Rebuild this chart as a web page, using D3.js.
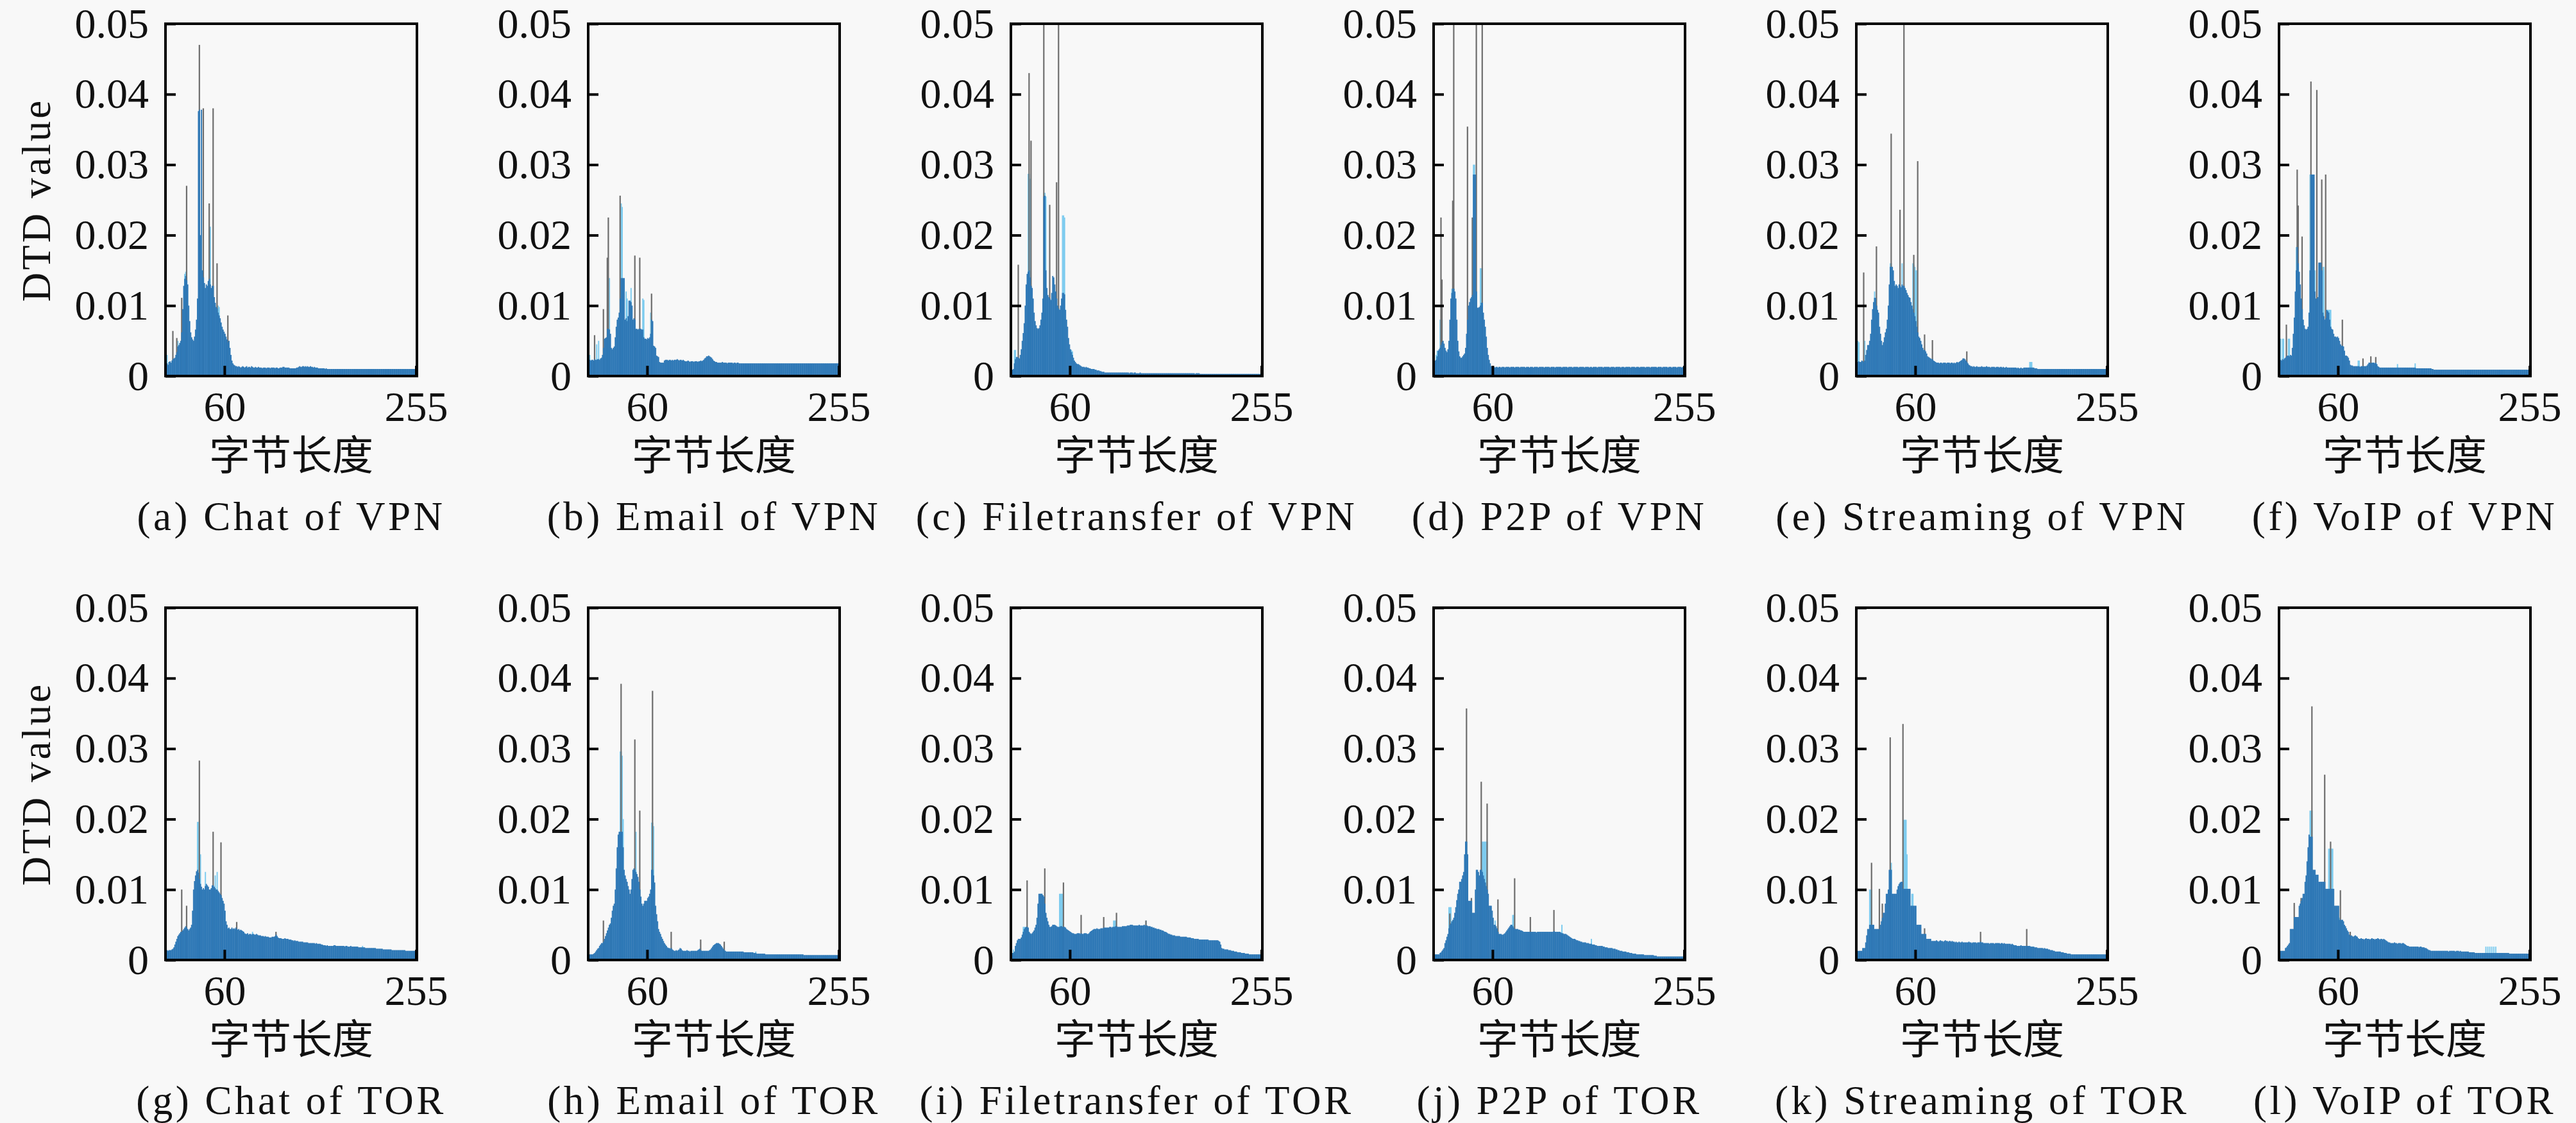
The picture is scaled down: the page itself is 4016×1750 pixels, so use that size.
<!DOCTYPE html>
<html>
<head>
<meta charset="utf-8">
<title>DTD value per byte length</title>
<script src="https://d3js.org/d3.v7.min.js"></script>
<style>
  body { margin: 0; background: #f8f8f8; }
  svg { display: block; }
  text { font-family: 'Liberation Serif', 'DejaVu Serif', serif; fill: #111; }
  .axis text { font-size: 66px; }
  .axis line { stroke: #000; stroke-width: 4px; }
  .frame { fill: none; stroke: #000; stroke-width: 4px; }
  .xtitle { font-family: 'Liberation Serif', 'Noto Sans CJK SC', sans-serif; font-size: 64px; }
  .ytitle { font-size: 63px; letter-spacing: 4px; }
  .caption { font-size: 63px; letter-spacing: 4.5px; }
  .blue { fill: #2e78b6; }
  .cyan { fill: #7ccbef; }
  .spike { fill: #6e6e6e; }
</style>
</head>
<body>
<svg id="chart" width="4016" height="1750"></svg>
<script>
// DTD values per byte length 0..255, in units of 0.0001
const chatVpnBlue = [
  17,18,16,20,21,19,22,24,25,26,30,34,42,44,47,50,
  62,95,128,138,142,136,130,100,78,62,55,52,50,56,66,80,
  110,376,378,200,378,150,140,132,125,130,128,135,138,130,125,128,
  128,112,104,98,96,90,86,82,76,70,66,63,60,56,52,48,
  50,40,30,22,18,16,15,14,14,13,14,13,12,13,14,13,
  12,13,14,12,13,13,12,14,13,12,12,13,12,12,13,12,
  12,12,11,12,12,12,11,12,12,12,11,12,12,12,12,11,
  12,12,11,11,12,12,12,13,13,12,12,12,12,12,11,11,
  11,11,11,11,11,12,12,13,14,13,13,14,14,13,14,13,
  14,13,13,14,13,13,12,13,12,12,12,11,11,11,11,11,
  11,11,10,11,10,10,10,10,10,10,10,10,10,10,10,10,
  10,10,10,10,10,10,10,10,10,10,10,10,10,10,10,10,
  10,10,10,10,10,10,10,10,10,10,10,10,10,10,10,10,
  10,10,10,10,10,10,10,10,10,10,10,10,10,10,10,10,
  10,10,10,10,10,10,10,10,10,10,10,10,10,10,10,10,
  10,10,10,10,10,10,10,10,10,10,10,10,10,10,10,12
];
const chatVpnSpikes = [[7,64],[11,54],[16,111],[21,270],[34,470],[38,380],[44,245],[48,380],[52,160],[63,86],[255,20]];
const chatVpnCyan = [[0,31],[1,30],[12,50],[19,145],[20,148],[21,140],[44,210],[45,212],[53,100],[54,98],[60,55]];

const emailVpnBlue = [
  23,23,22,23,23,22,24,23,23,24,24,23,25,26,30,40,
  53,54,55,67,67,66,60,40,38,40,42,55,70,80,83,90,
  110,139,139,139,139,80,82,78,85,107,107,105,100,80,82,80,
  67,67,66,67,67,67,66,66,55,53,53,52,54,53,55,60,
  80,78,43,42,40,29,28,27,20,19,19,19,19,22,23,23,
  23,22,23,23,22,23,22,23,23,23,24,23,22,23,23,22,
  23,22,21,21,21,22,21,20,21,21,21,20,21,21,21,20,
  21,21,22,21,22,23,25,26,28,28,29,28,27,26,24,22,
  21,20,20,19,19,19,19,19,20,19,19,19,19,18,19,19,
  19,19,19,18,19,19,18,19,19,18,18,18,18,18,18,18,
  18,18,18,18,18,18,18,18,18,18,18,18,18,18,18,18,
  18,18,18,18,18,18,18,18,18,18,18,18,18,18,18,18,
  18,18,18,18,18,18,18,18,18,18,18,18,18,18,18,18,
  18,18,18,18,18,18,18,18,18,18,18,18,18,18,18,18,
  18,18,18,18,18,18,18,18,18,18,18,18,18,18,18,18,
  18,18,18,18,18,18,18,18,18,18,18,18,18,18,18,22
];
const emailVpnSpikes = [[6,58],[15,95],[19,168],[20,225],[32,256],[47,171],[52,168],[64,117]];
const emailVpnCyan = [[0,30],[1,30],[8,45],[10,50],[19,139],[20,139],[21,139],[33,245],[34,240],[38,120],[39,110],[43,125],[55,110],[56,108],[63,90],[255,26]];

const fileVpnBlue = [
  8,9,10,18,24,27,27,26,25,30,38,50,61,75,100,130,
  145,148,150,140,128,125,110,90,78,72,68,67,68,72,80,90,
  110,255,256,150,125,115,112,110,108,118,142,140,130,120,110,100,
  96,94,100,110,118,118,116,94,80,70,54,45,38,34,30,26,
  22,20,18,17,17,16,15,14,13,13,13,12,13,12,12,11,
  11,10,10,10,10,9,9,8,8,8,7,7,6,6,6,5,
  5,5,5,5,5,5,5,5,5,5,5,5,5,5,5,5,
  5,5,5,5,5,5,5,5,4,5,5,5,4,5,5,4,
  4,4,4,5,4,4,4,4,4,4,4,4,4,4,4,4,
  4,4,4,4,4,4,4,4,4,4,4,4,4,4,4,4,
  4,4,4,4,4,4,4,4,4,4,4,4,4,4,4,4,
  4,4,4,4,4,4,4,4,4,4,4,3,4,4,4,4,
  3,3,3,3,3,3,3,3,3,3,3,3,3,3,3,3,
  3,3,3,3,3,3,3,3,3,3,3,3,3,3,3,3,
  3,3,3,3,3,3,3,3,3,3,3,3,3,3,3,3,
  3,3,3,3,3,3,3,3,3,3,3,3,3,3,3,6
];
const fileVpnSpikes = [[7,158],[18,430],[20,334],[33,560],[39,243],[46,275],[48,560],[255,12]];
const fileVpnCyan = [[3,37],[4,37],[17,287],[18,287],[19,280],[33,260],[34,260],[35,255],[52,228],[53,228],[54,225],[61,37],[62,35]];

const p2pVpnBlue = [
  10,22,23,28,36,38,40,44,48,50,46,40,36,34,38,50,
  80,110,118,124,124,120,110,80,50,35,28,26,26,28,30,32,
  40,60,80,100,105,110,112,115,286,286,286,120,97,97,98,100,
  104,104,90,80,70,56,40,30,23,18,14,13,13,13,12,13,
  13,12,13,13,12,13,13,13,12,13,13,13,13,12,13,13,
  13,13,12,13,13,13,13,12,13,13,13,13,13,12,13,13,
  13,12,13,13,13,12,13,13,13,13,12,13,13,13,13,13,
  12,13,13,13,13,13,12,13,13,13,13,12,13,13,13,13,
  13,13,12,13,13,13,13,13,12,13,13,13,13,12,13,13,
  13,13,13,12,13,13,13,13,13,12,13,13,13,13,12,13,
  13,12,13,13,13,13,12,13,13,13,13,13,12,13,13,13,
  13,13,13,12,13,13,13,13,12,13,13,13,13,13,12,13,
  13,13,12,13,13,13,13,13,12,13,13,13,13,12,13,13,
  13,12,13,13,13,13,13,12,13,13,13,13,12,13,13,13,
  13,13,13,12,13,13,13,13,12,13,13,13,13,13,12,13,
  13,13,12,13,13,13,13,12,13,13,13,13,12,13,13,20
];
const p2pVpnSpikes = [[7,225],[8,137],[19,249],[20,600],[34,354],[39,225],[43,600],[49,600],[255,20]];
const p2pVpnCyan = [[2,30],[3,36],[6,80],[7,80],[8,80],[18,124],[19,130],[39,225],[40,300],[41,300],[47,153],[48,153],[49,153]];

const streamVpnBlue = [
  20,20,21,20,20,22,21,20,22,30,37,44,44,50,60,80,
  95,105,111,111,100,94,90,70,60,50,44,48,55,62,67,80,
  100,130,155,155,155,150,135,128,130,128,125,130,128,126,130,128,
  128,125,122,118,115,112,111,105,100,95,90,85,78,70,62,56,
  54,50,45,40,37,37,35,32,28,27,26,25,24,24,22,21,
  20,19,19,19,18,19,19,18,19,19,19,18,19,19,19,18,
  19,19,18,19,18,19,20,19,20,21,22,23,25,25,24,22,
  20,18,16,15,14,14,13,14,13,13,14,13,13,13,13,14,
  13,13,13,13,14,13,13,13,12,13,13,13,13,12,13,13,
  13,12,13,13,12,13,12,12,13,12,12,12,12,12,12,12,
  12,12,12,11,12,11,11,12,11,11,12,12,12,12,12,12,
  12,12,12,12,12,11,11,11,10,10,10,10,10,10,10,10,
  10,10,10,10,10,10,10,10,10,10,10,10,10,10,10,10,
  10,10,10,10,10,10,10,10,10,10,10,10,10,10,10,10,
  10,10,10,10,10,10,10,10,10,10,10,10,10,10,10,10,
  10,10,10,10,10,10,10,10,10,10,10,10,10,10,10,11
];
const streamVpnSpikes = [[7,147],[20,184],[35,344],[44,236],[48,560],[58,172],[62,305],[69,59],[77,51],[112,35]];
const streamVpnCyan = [[0,50],[1,50],[2,48],[8,50],[18,120],[34,160],[35,160],[46,160],[57,160],[58,158],[59,155],[60,150],[61,150],[176,20],[177,20],[178,20]];

const voipVpnBlue = [
  23,23,22,24,23,25,26,28,29,29,28,30,29,40,60,83,
  120,150,183,160,148,130,110,95,80,72,67,66,67,70,90,150,
  286,286,286,286,120,110,110,112,161,161,161,150,90,85,80,82,
  94,92,90,80,70,67,66,60,56,56,55,56,54,50,45,43,
  43,42,36,29,29,28,26,22,16,15,15,14,14,14,14,14,
  14,14,13,14,14,14,14,14,14,15,17,19,19,18,19,19,
  19,18,19,17,14,13,12,12,12,12,12,12,12,12,12,12,
  12,12,12,12,12,12,12,12,12,12,12,12,12,12,12,12,
  12,12,12,12,12,12,12,12,12,12,12,11,11,11,11,11,
  11,11,11,11,11,11,11,11,11,11,11,10,10,9,9,9,
  9,9,9,9,9,9,9,9,9,9,9,9,9,9,9,9,
  9,9,9,9,9,9,9,9,9,9,9,9,9,9,9,9,
  9,9,9,9,9,9,9,9,9,9,9,9,9,9,9,9,
  9,9,9,9,9,9,9,9,9,9,9,9,9,9,9,9,
  9,9,9,9,9,9,9,9,9,9,9,9,9,9,9,9,
  9,9,9,9,9,9,9,9,9,9,9,9,9,9,9,16
];
const voipVpnSpikes = [[7,73],[18,293],[19,242],[23,198],[32,418],[38,406],[43,279],[47,286],[64,80],[85,25],[93,28],[98,27]];
const voipVpnCyan = [[0,53],[1,53],[3,53],[4,53],[9,53],[10,53],[17,183],[18,185],[31,286],[36,150],[44,155],[45,155],[49,94],[50,94],[51,94],[52,94],[80,22],[81,22],[120,17],[138,18]];

const chatTorBlue = [
  14,14,13,14,14,14,15,16,18,22,26,30,34,36,38,40,
  40,42,44,46,48,46,44,42,44,46,50,70,100,112,120,126,
  128,124,115,108,104,100,102,100,105,108,106,104,100,100,102,106,
  106,104,102,100,100,98,96,94,92,88,84,80,70,55,50,45,
  46,44,44,46,44,45,44,46,44,43,44,42,43,42,41,40,
  38,37,37,38,36,37,37,36,37,37,36,36,37,36,35,35,
  35,34,34,34,33,34,33,33,33,32,32,32,33,33,33,34,
  36,34,32,31,31,31,30,30,30,31,30,30,30,29,29,29,
  28,28,27,28,27,27,27,26,26,26,26,26,25,25,25,25,
  25,24,24,24,24,24,24,24,23,24,23,23,23,23,22,22,
  21,21,21,20,21,20,20,20,20,20,20,21,21,20,20,20,
  20,20,20,20,20,20,19,20,20,19,19,19,20,19,19,19,
  19,19,19,19,18,18,18,18,18,18,18,17,17,17,17,17,
  17,17,17,17,17,17,16,16,16,16,16,16,16,15,15,15,
  15,15,15,15,15,15,14,14,14,14,14,14,14,14,14,14,
  14,14,14,14,13,13,13,13,13,13,13,13,13,13,13,13
];
const chatTorSpikes = [[16,100],[21,77],[34,283],[48,182],[56,167],[72,54],[112,40],[255,13]];
const chatTorCyan = [[32,196],[33,196],[34,190],[35,150],[40,125],[50,120],[52,125],[88,40],[200,20]];

const emailTorBlue = [
  8,8,8,8,8,9,10,12,14,16,17,20,22,24,24,26,
  30,34,38,42,46,50,52,60,70,77,80,100,130,160,178,182,
  182,182,182,160,128,120,115,111,105,100,94,100,115,128,130,128,
  125,122,118,111,100,90,80,77,80,84,84,84,88,90,94,100,
  128,128,120,110,77,65,55,44,40,37,33,30,27,24,22,20,
  18,17,17,16,17,15,14,13,13,14,13,14,15,17,16,14,
  13,13,13,13,14,13,13,12,13,13,13,13,13,13,13,14,
  15,16,14,13,13,13,13,13,13,13,13,14,15,17,19,21,
  22,23,24,24,24,23,22,20,18,16,14,13,12,12,12,12,
  12,12,12,12,12,12,12,12,12,12,12,12,12,12,11,11,
  11,11,11,11,11,11,11,11,10,10,10,9,9,9,9,9,
  9,9,9,9,8,8,8,8,8,8,8,8,8,8,8,8,
  8,8,8,8,8,8,8,8,8,8,8,8,8,8,8,8,
  8,8,8,8,8,8,8,8,8,8,8,7,7,7,7,7,
  7,7,7,7,7,7,7,7,7,7,7,7,7,7,7,7,
  7,7,7,7,7,7,7,7,7,7,7,7,7,7,7,7
];
const emailTorSpikes = [[15,56],[23,50],[33,392],[47,313],[52,212],[65,382],[84,40],[114,29],[138,26]];
const emailTorCyan = [[32,296],[33,296],[34,290],[35,200],[48,182],[64,195],[65,195],[66,190],[170,12]];

const fileTorBlue = [
  10,10,10,12,20,24,28,30,30,30,32,36,40,44,46,47,
  47,46,40,38,37,38,40,42,46,50,60,80,94,94,94,94,
  92,90,80,67,60,55,50,47,47,48,50,50,50,49,48,47,
  47,47,48,48,47,47,47,46,44,43,42,41,40,39,38,38,
  37,37,37,38,38,38,37,38,37,37,38,38,38,37,37,38,
  40,41,42,43,44,44,44,45,44,44,44,45,45,45,46,46,
  46,46,46,46,47,47,46,47,47,47,48,48,47,47,47,47,
  47,48,48,48,48,48,49,49,49,50,50,50,49,49,49,49,
  49,49,50,49,49,49,49,50,49,49,49,48,48,48,47,47,
  46,46,45,45,44,44,44,43,43,42,42,41,40,40,39,38,
  37,37,36,36,35,35,35,34,34,34,34,34,33,33,33,33,
  33,33,33,32,32,32,32,31,31,31,30,30,30,30,30,29,
  29,29,29,29,29,29,29,29,29,28,28,28,28,28,28,28,
  28,28,28,27,26,22,17,16,16,15,15,15,15,14,14,14,
  13,13,13,12,12,12,11,11,11,11,10,10,10,10,9,9,
  9,9,8,8,8,8,8,8,8,8,8,8,8,8,8,8
];
const fileTorSpikes = [[16,113],[34,130],[53,110],[71,64],[94,61],[107,67],[137,56],[255,12]];
const fileTorCyan = [[2,15],[12,47],[13,47],[14,47],[30,94],[49,94],[50,94],[51,94],[52,94],[104,56],[105,56],[106,56],[137,56]];

const p2pTorBlue = [
  8,8,8,8,8,8,10,11,13,15,17,24,28,33,37,45,
  50,52,55,57,60,67,75,85,94,100,111,111,115,120,125,150,
  168,168,150,84,84,84,84,67,67,67,100,128,128,125,120,128,
  128,125,120,115,110,105,100,94,77,77,77,70,60,50,50,48,
  45,40,37,37,37,36,36,37,38,40,42,44,46,48,50,50,
  48,46,44,44,44,44,43,43,42,42,41,40,40,40,40,40,
  40,40,40,40,40,40,40,40,39,40,40,40,40,40,40,40,
  40,40,40,40,40,40,40,40,40,40,41,40,40,40,40,40,
  40,39,38,38,37,37,37,36,35,34,33,32,31,30,30,30,
  29,28,28,27,27,26,26,25,25,25,25,24,24,24,23,23,
  23,22,22,22,21,21,20,20,20,20,20,20,19,19,18,18,
  18,17,17,17,17,17,16,16,16,15,15,14,14,13,13,13,
  12,12,12,12,11,11,11,10,10,10,9,9,9,9,8,8,
  8,8,8,8,8,8,7,7,7,7,7,7,7,7,7,7,
  6,6,6,5,5,5,5,5,5,5,5,5,5,5,5,5,
  5,5,5,5,5,5,5,5,5,5,5,5,5,5,5,7
];
const p2pTorSpikes = [[16,66],[33,357],[38,88],[48,253],[54,222],[65,86],[82,116],[98,61],[122,71]];
const p2pTorCyan = [[15,75],[16,75],[17,75],[32,168],[33,168],[49,168],[50,168],[51,168],[52,168],[53,168],[54,168],[62,56],[80,64],[81,64],[130,50],[160,30]];

const streamTorBlue = [
  13,13,13,13,13,13,17,17,17,25,35,44,44,50,50,50,
  50,50,44,44,44,44,44,44,50,55,60,67,67,80,94,94,
  100,128,128,128,94,94,94,94,94,100,105,108,110,111,111,101,
  101,101,101,101,101,101,101,77,77,77,77,77,77,50,50,50,
  50,50,37,37,37,37,37,30,30,30,30,30,27,27,27,27,
  27,28,27,26,27,28,27,27,26,27,28,27,27,26,27,27,
  26,27,26,26,25,26,25,25,26,25,25,26,25,25,25,25,
  25,25,26,25,25,24,25,25,25,25,24,25,25,25,26,25,
  25,24,24,24,24,24,24,23,24,24,24,24,23,24,24,24,
  24,24,23,24,24,23,24,23,23,23,23,23,23,22,23,22,
  21,21,21,20,20,20,20,21,20,20,20,20,20,20,20,20,
  20,19,19,19,19,18,18,18,17,17,17,17,17,17,16,17,
  16,16,16,15,15,14,14,14,13,13,12,12,12,12,12,12,
  11,11,11,10,10,10,9,9,9,9,8,8,8,8,8,8,
  8,8,8,8,8,8,8,8,8,8,8,8,8,8,8,8,
  8,8,8,8,8,8,8,8,8,8,8,8,8,8,8,9
];
const streamTorSpikes = [[15,138],[23,101],[26,80],[34,316],[47,335],[69,45],[126,40],[173,44]];
const streamTorCyan = [[13,100],[14,100],[15,100],[34,138],[35,138],[47,199],[48,199],[49,199],[50,199],[51,150],[56,94],[57,94]];

const voipTorBlue = [
  13,13,13,13,13,13,17,18,20,22,24,44,44,44,44,61,
  61,61,61,61,77,80,84,88,94,94,111,120,140,160,178,175,
  175,175,128,128,128,121,121,121,111,111,111,111,111,111,111,101,
  101,101,101,101,101,101,101,101,77,77,77,77,77,57,57,57,
  57,55,50,48,45,42,40,36,34,35,34,33,34,35,34,33,
  31,30,30,31,30,30,29,30,31,30,30,30,29,30,31,30,
  30,29,30,30,31,30,29,30,30,29,30,29,28,27,26,25,
  25,24,24,24,24,25,24,24,23,24,24,24,23,24,24,23,
  22,21,20,20,19,19,19,19,19,19,19,19,19,19,18,19,
  19,18,18,18,17,17,16,15,14,14,13,13,13,13,13,13,
  13,13,13,13,13,13,13,13,13,13,13,13,12,13,13,13,
  13,13,13,12,13,13,13,12,13,12,12,12,12,12,12,12,
  12,11,11,11,11,11,11,10,10,10,10,10,10,10,10,10,
  10,10,10,10,10,10,10,10,10,10,10,10,10,10,10,10,
  10,10,10,10,10,10,10,10,10,10,9,9,9,9,9,9,
  9,9,9,9,9,9,9,9,9,9,9,9,9,9,9,12
];
const voipTorSpikes = [[15,81],[22,88],[33,360],[46,263],[52,168],[62,99],[72,40],[255,12]];
const voipTorCyan = [[31,212],[32,212],[33,212],[50,158],[51,158],[52,158],[53,158],[54,158],[60,60],[61,60],[210,19],[212,19],[214,19],[216,19],[218,19],[220,19]];

const captions = [
  '(a) Chat of VPN', '(b) Email of VPN', '(c) Filetransfer of VPN',
  '(d) P2P of VPN', '(e) Streaming of VPN', '(f) VoIP of VPN',
  '(g) Chat of TOR', '(h) Email of TOR', '(i) Filetransfer of TOR',
  '(j) P2P of TOR', '(k) Streaming of TOR', '(l) VoIP of TOR'
];
const blueSeries = [chatVpnBlue, emailVpnBlue, fileVpnBlue, p2pVpnBlue, streamVpnBlue, voipVpnBlue,
  chatTorBlue, emailTorBlue, fileTorBlue, p2pTorBlue, streamTorBlue, voipTorBlue];
const spikeSeries = [chatVpnSpikes, emailVpnSpikes, fileVpnSpikes, p2pVpnSpikes, streamVpnSpikes, voipVpnSpikes,
  chatTorSpikes, emailTorSpikes, fileTorSpikes, p2pTorSpikes, streamTorSpikes, voipTorSpikes];
const cyanSeries = [chatVpnCyan, emailVpnCyan, fileVpnCyan, p2pVpnCyan, streamVpnCyan, voipVpnCyan,
  chatTorCyan, emailTorCyan, fileTorCyan, p2pTorCyan, streamTorCyan, voipTorCyan];

const yTickValues = [0, 0.01, 0.02, 0.03, 0.04, 0.05];
const yTickLabels = ['0', '0.01', '0.02', '0.03', '0.04', '0.05'];
const xTickValues = [60, 255];
const xTickLabels = ['60', '255'];
const xTitle = '字节长度';
const yTitle = 'DTD value';
const unit = 1e-4;

const svg = d3.select('#chart');

const boxW = 392;
const boxH = 549;
const colStep = 659;
const firstLeft = 258;
const rowTop = [37, 947];

const x = d3.scaleLinear().domain([0, 256]).range([0, boxW]);
const y = d3.scaleLinear().domain([0, 0.05]).range([boxH, 0]);
const binW = x(1) - x(0);

captions.forEach((caption, k) => {
  const col = k % 6;
  const row = Math.floor(k / 6);
  const g = svg.append('g')
    .attr('transform', `translate(${firstLeft + col * colStep}, ${rowTop[row]})`);

  g.append('clipPath').attr('id', 'clip' + k)
    .append('rect').attr('width', boxW).attr('height', boxH);

  const plot = g.append('g').attr('clip-path', `url(#clip${k})`);

  plot.selectAll('rect.cyan')
    .data(cyanSeries[k])
    .join('rect')
    .attr('class', 'cyan')
    .attr('x', d => x(d[0]))
    .attr('width', binW + 0.4)
    .attr('y', d => y(d[1] * unit))
    .attr('height', d => boxH - y(d[1] * unit));

  plot.selectAll('rect.spike')
    .data(spikeSeries[k])
    .join('rect')
    .attr('class', 'spike')
    .attr('x', d => x(d[0]) + binW / 2 - 1.1)
    .attr('width', 2.2)
    .attr('y', d => y(d[1] * unit))
    .attr('height', d => boxH - y(d[1] * unit));

  plot.selectAll('rect.blue')
    .data(blueSeries[k])
    .join('rect')
    .attr('class', 'blue')
    .attr('x', (d, i) => x(i))
    .attr('width', binW + 0.4)
    .attr('y', d => y(d * unit))
    .attr('height', d => boxH - y(d * unit));

  g.append('g')
    .attr('class', 'axis')
    .call(d3.axisLeft(y)
      .tickValues(yTickValues)
      .tickFormat((d, i) => yTickLabels[i])
      .tickSize(-16)
      .tickPadding(26));

  g.append('g')
    .attr('class', 'axis')
    .attr('transform', `translate(0, ${boxH})`)
    .call(d3.axisBottom(x)
      .tickValues(xTickValues)
      .tickFormat((d, i) => xTickLabels[i])
      .tickSize(-16)
      .tickPadding(23));

  g.selectAll('.axis .domain').remove();

  g.append('rect')
    .attr('class', 'frame')
    .attr('width', boxW)
    .attr('height', boxH);

  g.append('text')
    .attr('class', 'xtitle')
    .attr('x', boxW / 2)
    .attr('y', boxH + 146)
    .attr('text-anchor', 'middle')
    .text(xTitle);

  g.append('text')
    .attr('class', 'caption')
    .attr('x', boxW / 2)
    .attr('y', boxH + 240)
    .attr('text-anchor', 'middle')
    .text(caption);

  if (col === 0) {
    g.append('text')
      .attr('class', 'ytitle')
      .attr('transform', `translate(-180, ${boxH / 2}) rotate(-90)`)
      .attr('text-anchor', 'middle')
      .text(yTitle);
  }
});
</script>
</body>
</html>
